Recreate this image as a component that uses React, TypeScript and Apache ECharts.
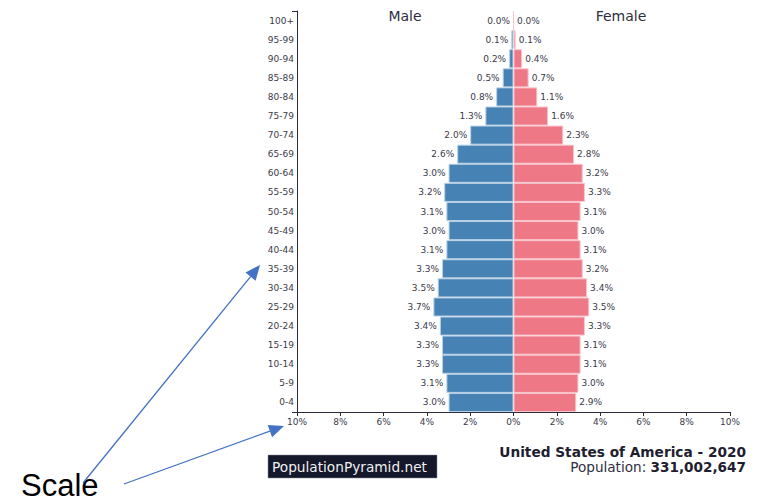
import React, { useEffect, useRef } from "react";
import * as echarts from "echarts";

const ageGroups = ["0-4","5-9","10-14","15-19","20-24","25-29","30-34","35-39","40-44","45-49","50-54","55-59","60-64","65-69","70-74","75-79","80-84","85-89","90-94","95-99","100+"];
const malePct = [3.0,3.1,3.3,3.3,3.4,3.7,3.5,3.3,3.1,3.0,3.1,3.2,3.0,2.6,2.0,1.3,0.8,0.5,0.2,0.1,0.0];
const femalePct = [2.9,3.0,3.1,3.1,3.3,3.5,3.4,3.2,3.1,3.0,3.1,3.3,3.2,2.8,2.3,1.6,1.1,0.7,0.4,0.1,0.0];
const xTicks = { min: -10, max: 10, interval: 2 };
const titleText = "United States of America - 2020";
const populationLabel = "Population: ";
const populationValue = "331,002,647";
const siteName = "PopulationPyramid.net";
const annotationText = "Scale";

const GRID = { left: 297, right: 32, top: 11, bottom: 92 };
const W = 762, H = 504;
const ARROW = "#4472c4";
const AXIS = "#2b2b3b";

function arrow(x1: number, y1: number, x2: number, y2: number) {
  const dx = x2 - x1, dy = y2 - y1;
  const len = Math.sqrt(dx * dx + dy * dy);
  const ux = dx / len, uy = dy / len;
  const hl = 15, hw = 6.5;
  const bx = x2 - ux * hl, by = y2 - uy * hl;
  return [
    { type: "line", shape: { x1, y1, x2: bx, y2: by }, style: { stroke: ARROW, lineWidth: 1.3 }, silent: true },
    { type: "polygon", shape: { points: [[x2, y2], [bx - uy * hw, by + ux * hw], [bx + uy * hw, by - ux * hw]] }, style: { fill: ARROW }, silent: true },
  ];
}

export default function App() {
  const ref = useRef<HTMLDivElement>(null);
  useEffect(() => {
    document.body.style.margin = "0";
    const chart = echarts.init(ref.current!, null, { renderer: "svg" });
    const axisX = GRID.left;
    const axisTop = GRID.top;
    const axisBottom = H - GRID.bottom;
    chart.setOption({
      animation: false,
      textStyle: { fontFamily: "DejaVu Sans" },
      grid: { left: GRID.left, right: GRID.right, top: GRID.top, bottom: GRID.bottom, containLabel: false },
      xAxis: {
        type: "value",
        min: xTicks.min,
        max: xTicks.max,
        interval: xTicks.interval,
        axisLine: { show: true, onZero: false, lineStyle: { color: AXIS, width: 1 } },
        axisTick: { show: true, length: 4, lineStyle: { color: AXIS } },
        axisLabel: { fontSize: 9, color: "#3a3a4a", margin: 5, formatter: (v: number) => Math.abs(v) + "%" },
        splitLine: { show: false },
      },
      yAxis: {
        type: "category",
        data: ageGroups,
        axisLine: { show: true, onZero: false, lineStyle: { color: AXIS, width: 1 } },
        axisTick: { show: false },
        axisLabel: { fontSize: 9, color: "#3a3a4a", margin: 3 },
      },
      series: [
        {
          name: "Male",
          type: "bar",
          stack: "pop",
          data: malePct.map((v) => -v),
          barCategoryGap: "0%",
          itemStyle: { color: "#4682b4", borderColor: "#b9d0e6", borderWidth: 1 },
          label: { show: true, position: "left", distance: 3, fontSize: 9, color: "#3a3a4a", formatter: (p: any) => Math.abs(p.value).toFixed(1) + "%" },
        },
        {
          name: "Female",
          type: "bar",
          stack: "pop",
          data: femalePct,
          barCategoryGap: "0%",
          itemStyle: { color: "#ef7887", borderColor: "#f9c6cd", borderWidth: 1 },
          label: { show: true, position: "right", distance: 3, fontSize: 9, color: "#3a3a4a", formatter: (p: any) => Number(p.value).toFixed(1) + "%" },
        },
      ],
      graphic: [
        { type: "line", shape: { x1: axisX - 5, y1: axisTop + 0.5, x2: axisX, y2: axisTop + 0.5 }, style: { stroke: AXIS, lineWidth: 1 }, silent: true },
        { type: "line", shape: { x1: axisX - 5, y1: axisBottom + 0.5, x2: axisX, y2: axisBottom + 0.5 }, style: { stroke: AXIS, lineWidth: 1 }, silent: true },
        { type: "text", x: 405, y: 16, style: { text: "Male", fontSize: 14, fill: "#2e2e40", fontFamily: "DejaVu Sans", align: "center", verticalAlign: "middle" } },
        { type: "text", x: 621, y: 16, style: { text: "Female", fontSize: 14, fill: "#2e2e40", fontFamily: "DejaVu Sans", align: "center", verticalAlign: "middle" } },
        { type: "text", x: 746, y: 452, style: { text: titleText, fontSize: 13.7, fontWeight: "bold", fill: "#1e1e30", fontFamily: "DejaVu Sans", align: "right", verticalAlign: "middle" } },
        {
          type: "text", x: 746, y: 467,
          style: {
            text: "{a|" + populationLabel + "}{b|" + populationValue + "}",
            align: "right", verticalAlign: "middle",
            rich: {
              a: { fontSize: 13.6, fill: "#2e2e40", color: "#2e2e40", fontFamily: "DejaVu Sans" },
              b: { fontSize: 13.6, fontWeight: "bold", fill: "#1e1e30", color: "#1e1e30", fontFamily: "DejaVu Sans" },
            },
          },
        },
        { type: "rect", shape: { x: 268, y: 455, width: 169, height: 23 }, style: { fill: "#15172b", stroke: "#8a8a9a", lineWidth: 0.5 } },
        { type: "text", x: 272, y: 467, style: { text: siteName, fontSize: 13.7, fill: "#f0f0f0", fontFamily: "DejaVu Sans", align: "left", verticalAlign: "middle" } },
        { type: "text", x: 21, y: 501, style: { text: annotationText, fontSize: 31, fill: "#000000", fontFamily: "Liberation Sans", align: "left", verticalAlign: "bottom" } },
        ...arrow(83, 483, 260, 265),
        ...arrow(124, 484, 284, 426),
      ],
    });
    return () => chart.dispose();
  }, []);
  return <div ref={ref} style={{ width: W, height: H }} />;
}
